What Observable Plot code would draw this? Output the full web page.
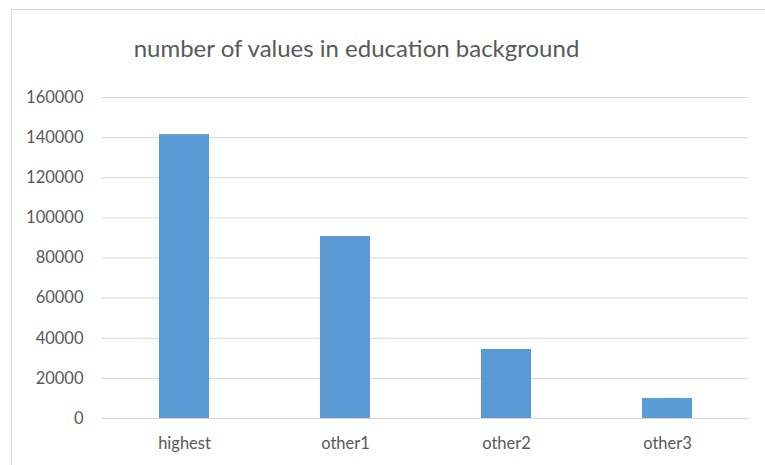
<!DOCTYPE html>
<html>
<head>
<meta charset="utf-8">
<script src="https://cdn.jsdelivr.net/npm/d3@7"></script>
<script src="https://cdn.jsdelivr.net/npm/@observablehq/plot@0.6"></script>
<style>
  body { margin: 0; background: #fff; }
  #frame { position: relative; width: 765px; height: 465px; overflow: hidden; background: #fff; }
  #border { position: absolute; left: 11px; top: 9px; width: 800px; height: 500px; border: 1px solid #d9d9d9; box-sizing: border-box; }
  #title { position: absolute; left: 0; top: 35px; width: 713px; text-align: center; font-family: Lato, "Open Sans", sans-serif; font-size: 24px; line-height: 26px; color: #595959; }
  #chart { position: absolute; left: 0; top: 80px; }
</style>
</head>
<body>
<div id="frame">
  <div id="border"></div>
  <div id="title">number of values in education background</div>
  <div id="chart"></div>
</div>
<script>
const categories = ["highest", "other1", "other2", "other3"];
const counts = [141500, 90700, 34400, 10000];
const yTicks = [0, 20000, 40000, 60000, 80000, 100000, 120000, 140000, 160000];

const data = categories.map((c, i) => ({ category: c, count: counts[i] }));

const chart = Plot.plot({
  width: 765,
  height: 385,
  marginLeft: 102,
  marginRight: 17,
  marginTop: 17,
  marginBottom: 47,
  style: { fontFamily: "Lato, 'Open Sans', sans-serif", fontSize: "16.5px", color: "#595959", background: "transparent" },
  x: { domain: categories, paddingInner: 0.69, paddingOuter: 0.345, label: null, tickSize: 0, tickPadding: 19 },
  y: { domain: [0, 160000], ticks: yTicks, tickFormat: d3.format("d"), label: null, tickSize: 0, tickPadding: 19 },
  marks: [
    Plot.gridY(yTicks, { stroke: "#d9d9d9", strokeOpacity: 1 }),
    Plot.barY(data, { x: "category", y: "count", fill: "#5b9bd5" })
  ]
});
document.getElementById("chart").appendChild(chart);
</script>
</body>
</html>
